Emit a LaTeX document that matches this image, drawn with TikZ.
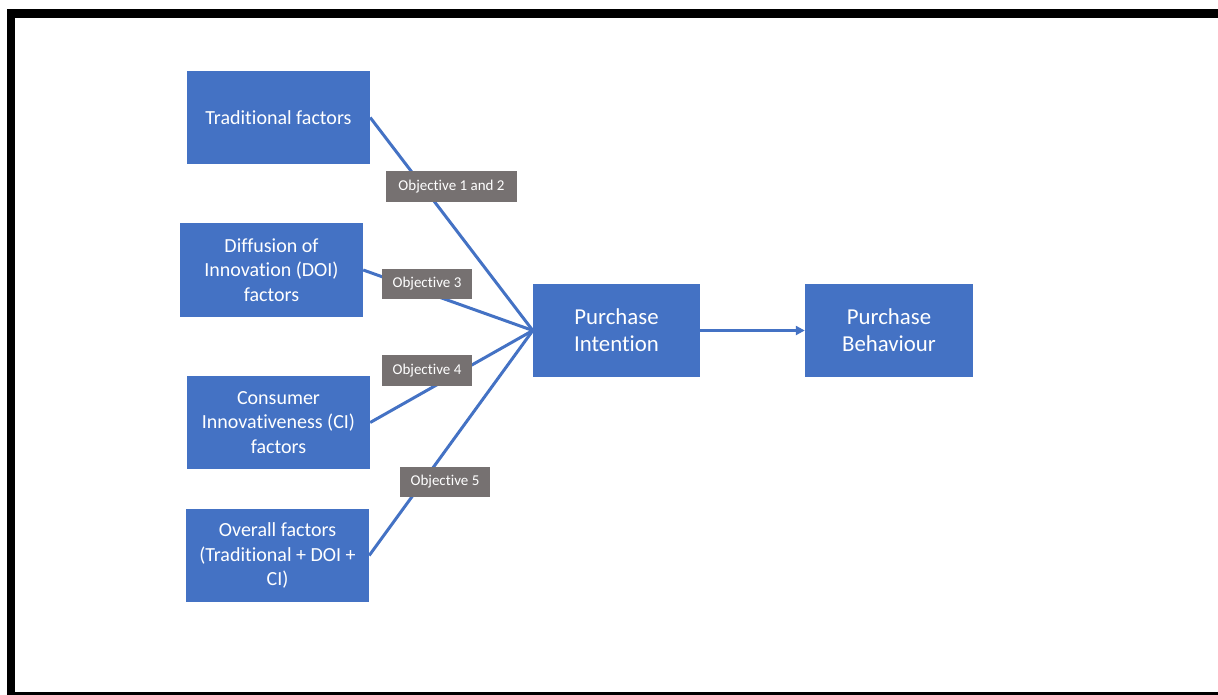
\documentclass[tikz,border=0pt]{standalone}
\usepackage{fontspec}
\setmainfont[Ligatures=NoCommon]{Carlito}
\usetikzlibrary{arrows.meta}
\definecolor{boxblue}{HTML}{4472C4}
\definecolor{labgrey}{HTML}{767171}
\definecolor{lineblue}{HTML}{4472C4}
\begin{document}
\begin{tikzpicture}[x=1pt,y=-1pt,
  factor/.style={fill=boxblue, draw=none, text=white, minimum width=183pt, minimum height=93pt, inner sep=0pt, align=center, font=\fontsize{20}{24.5}\selectfont},
  target/.style={fill=boxblue, draw=none, text=white, minimum width=167pt, minimum height=93pt, inner sep=0pt, align=center, font=\fontsize{22.8}{27}\selectfont},
  objlabel/.style={fill=labgrey, draw=none, text=white, minimum height=30pt, inner sep=0pt, font=\fontsize{15}{17}\selectfont},
  link/.style={draw=lineblue, line width=3pt},
  frame/.style={fill=black, draw=none}]
\useasboundingbox (0,0) rectangle (1218,695);
% frame
\fill[frame] (7,9) rectangle (1218,18);
\fill[frame] (7,9) rectangle (15,695);
\fill[frame] (7,692) rectangle (1218,695);
% boxes
\node[factor] (trad) at (278.5,117.5) {Traditional factors};
\node[factor] (doi) at (271.5,270) {Diffusion of\\Innovation (DOI)\\factors};
\node[factor] (ci) at (278.5,422.5) {Consumer\\Innovativeness (CI)\\factors};
\node[factor] (all) at (277.5,555.5) {Overall factors\\(Traditional + DOI +\\CI)};
\node[target] (pi) at (616.5,330.5) {Purchase\\Intention};
\node[target, minimum width=168pt] (pb) at (889,330.5) {Purchase\\Behaviour};
% links
\draw[link] (trad.east) -- (pi.west);
\draw[link] (doi.east) -- (pi.west);
\draw[link] (ci.east) -- (pi.west);
\draw[link] (all.east) -- (pi.west);
\draw[link, -{Triangle[length=9pt,width=9pt]}] (pi.east) -- (pb.west);
% labels
\node[objlabel, minimum width=131pt, minimum height=31pt] (o12) at (451.5,186.5) {Objective 1 and 2};
\node[objlabel, minimum width=90pt] (o3) at (427,284) {Objective 3};
\node[objlabel, minimum width=90pt, minimum height=31pt] (o4) at (427,370.5) {Objective 4};
\node[objlabel, minimum width=90pt] (o5) at (445,482) {Objective 5};
\end{tikzpicture}
\end{document}
